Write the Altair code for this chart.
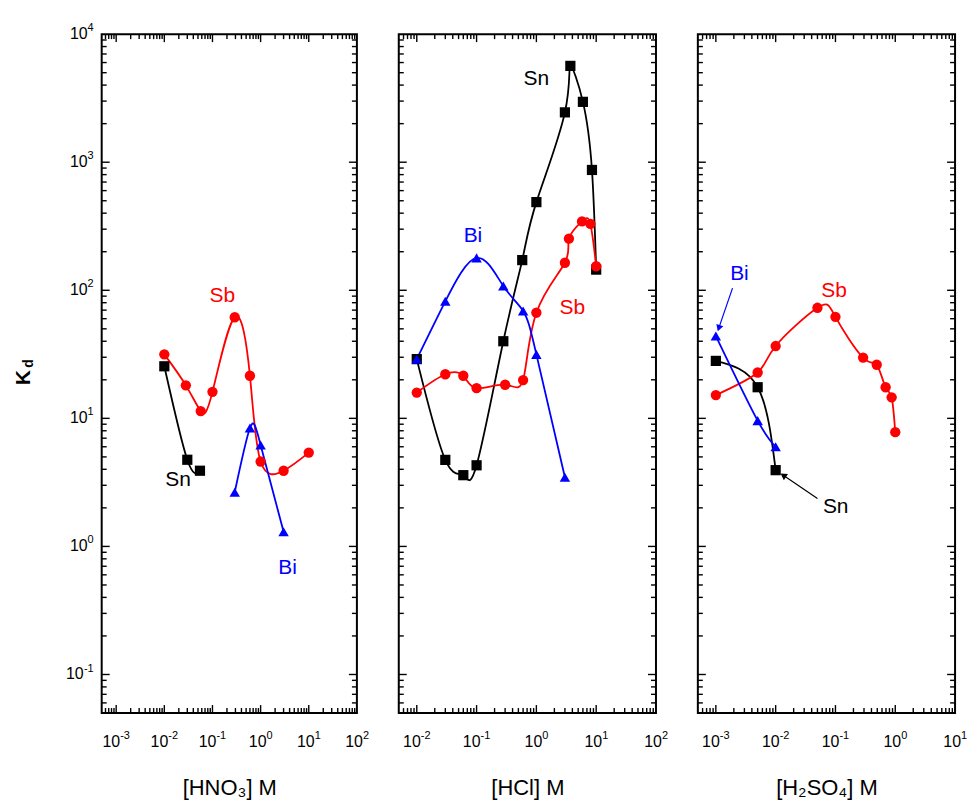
import altair as alt
import pandas as pd

ELEMENTS = ["Sn", "Sb", "Bi"]
COLORS = ["#000000", "#ff0000", "#0000ff"]
SHAPES = ["square", "circle", "triangle-up"]
FONT = "Liberation Sans"

# ---------------- data: [HNO3] ----------------
hno3_sn_x = [0.01, 0.03, 0.055]
hno3_sn_y = [25.5, 4.75, 3.9]
hno3_sb_x = [0.01, 0.028, 0.057, 0.1, 0.29, 0.6, 1.0, 3.0, 10.0]
hno3_sb_y = [31.6, 18.1, 11.4, 16.1, 61.6, 21.5, 4.6, 3.9, 5.4]
hno3_bi_x = [0.29, 0.6, 1.0, 3.0]
hno3_bi_y = [2.65, 8.4, 6.2, 1.3]

# ---------------- data: [HCl] ----------------
hcl_sn_x = [0.01, 0.03, 0.06, 0.1, 0.28, 0.58, 1.0, 3.0, 3.7, 6.0, 8.5, 10.0]
hcl_sn_y = [29, 4.74, 3.6, 4.3, 40, 172, 488, 2450, 5650, 2960, 870, 145]
hcl_sb_x = [0.01, 0.03, 0.06, 0.1, 0.3, 0.6, 1.0, 3.0, 3.5, 5.8, 8.0, 10.0]
hcl_sb_y = [15.9, 22.1, 21.5, 17.2, 18.3, 19.9, 66.8, 164, 253, 345, 330, 154]
hcl_bi_x = [0.01, 0.03, 0.1, 0.28, 0.6, 1.0, 3.0]
hcl_bi_y = [29, 82, 179, 108, 69, 31.6, 3.47]

# ---------------- data: [H2SO4] ----------------
h2so4_sn_x = [0.001, 0.005, 0.01]
h2so4_sn_y = [28.1, 17.5, 3.94]
h2so4_sb_x = [0.001, 0.005, 0.01, 0.05, 0.1, 0.29, 0.49, 0.69, 0.87, 1.0]
h2so4_sb_y = [15.2, 22.8, 36.7, 73, 62, 29.8, 26.2, 17.5, 14.6, 7.8]
h2so4_bi_x = [0.001, 0.005, 0.01]
h2so4_bi_y = [44, 9.6, 6.0]

# ---------------- in-plot labels ----------------
hno3_lab_text = ["Sb", "Sn", "Bi"]
hno3_lab_x = [0.16, 0.0193, 3.63]
hno3_lab_y = [90, 3.28, 0.68]
hcl_lab_text = ["Sn", "Bi", "Sb"]
hcl_lab_x = [1.0, 0.087, 4.0]
hcl_lab_y = [4490, 264, 73]
h2so4_lab_text = ["Bi", "Sn", "Sb"]
h2so4_lab_x = [0.00248, 0.101, 0.095]
h2so4_lab_y = [133, 2.04, 98.6]

# arrows in the H2SO4 panel (start -> end)
arrow_el = ["Bi", "Sn"]
arrow_x0 = [0.0019, 0.05]
arrow_y0 = [104, 2.37]
arrow_x1 = [0.00112, 0.0134]
arrow_y1 = [50.6, 3.59]
arrow_angle = [199, 304]

# axes
Y_DOMAIN = [0.05, 10000]
Y_EXPS = [-1, 0, 1, 2, 3, 4]
H = 681


def ticks(domain):
    lo, hi = domain
    major, minor = [], []
    for d in range(-6, 7):
        for k in range(1, 10):
            v = k * 10.0 ** d
            if lo * 1.0001 < v < hi * 0.9999:
                (major if k == 1 else minor).append(v)
    return major, minor


def series_df(xs_list, ys_list):
    rows = []
    for el, xs, ys in zip(ELEMENTS, xs_list, ys_list):
        for x, y in zip(xs, ys):
            rows.append({"x": x, "y": y, "el": el})
    return pd.DataFrame(rows)


color = alt.Color("el:N", scale=alt.Scale(domain=ELEMENTS, range=COLORS), legend=None)
shape = alt.Shape("el:N", scale=alt.Scale(domain=ELEMENTS, range=SHAPES), legend=None)
size = alt.Size("el:N", scale=alt.Scale(domain=ELEMENTS, range=[105, 110, 185]), legend=None)


def panel(df, labs, xdomain, exps, title, first, W, arrows=None):
    xs = alt.Scale(type="log", domain=xdomain, nice=False)
    ys = alt.Scale(type="log", domain=Y_DOMAIN, nice=False)
    xmaj, xmin = ticks(xdomain)
    ymaj, ymin = ticks(Y_DOMAIN)
    xaxis = alt.Axis(
        values=[10.0 ** e for e in exps], labels=False, ticks=False, domain=False, grid=False,
        title=title, titleFont=FONT, titleFontSize=22, titleFontWeight="normal",
        titleColor="black", titlePadding=65,
    )
    X = alt.X("x:Q", scale=xs, axis=xaxis)
    Y = alt.Y("y:Q", scale=ys, axis=None)

    layers = []
    rule = dict(color="black", strokeWidth=1.4)
    for d, ln in ((pd.DataFrame({"x": xmaj}), 8), (pd.DataFrame({"x": xmin}), 5)):
        layers.append(alt.Chart(d).mark_rule(**rule).encode(x=X, y=alt.value(H), y2=alt.value(H - ln)))
        layers.append(alt.Chart(d).mark_rule(**rule).encode(x=X, y=alt.value(0), y2=alt.value(ln)))
    for d, ln in ((pd.DataFrame({"y": ymaj}), 8), (pd.DataFrame({"y": ymin}), 5)):
        layers.append(alt.Chart(d).mark_rule(**rule).encode(y=Y, x=alt.value(0), x2=alt.value(ln)))
        layers.append(alt.Chart(d).mark_rule(**rule).encode(y=Y, x=alt.value(W - ln), x2=alt.value(W)))

    # x tick labels: "10" + raised exponent
    for short in (True, False):
        sel = [e for e in exps if (e >= 0) == short]
        if not sel:
            continue
        d = pd.DataFrame({"x": [10.0 ** e for e in sel], "b": ["10"] * len(sel),
                          "e": [str(e) for e in sel]})
        off = 6 if short else 4
        layers.append(alt.Chart(d).mark_text(
            font=FONT, fontSize=16, align="right", baseline="middle", dx=off, color="black"
        ).encode(x=X, y=alt.value(H + 29), text="b:N"))
        layers.append(alt.Chart(d).mark_text(
            font=FONT, fontSize=11, align="left", baseline="middle", dx=off, dy=-6, color="black"
        ).encode(x=X, y=alt.value(H + 29), text="e:N"))

    if first:
        for short in (True, False):
            sel = [e for e in Y_EXPS if (e >= 0) == short]
            d = pd.DataFrame({"y": [10.0 ** e for e in sel], "b": ["10"] * len(sel),
                              "e": [str(e) for e in sel]})
            layers.append(alt.Chart(d).mark_text(
                font=FONT, fontSize=16, align="right", baseline="middle", color="black"
            ).encode(y=Y, x=alt.value(-14 if short else -18), text="b:N"))
            layers.append(alt.Chart(d).mark_text(
                font=FONT, fontSize=11, align="right", baseline="middle", dy=-6, color="black"
            ).encode(y=Y, x=alt.value(-8), text="e:N"))
        layers.append(alt.Chart(pd.DataFrame({"t": ["K"]})).mark_text(
            font=FONT, fontSize=21, fontWeight="bold", angle=270, baseline="middle", color="black"
        ).encode(x=alt.value(-78), y=alt.value(H / 2 + 4), text="t:N"))
        layers.append(alt.Chart(pd.DataFrame({"t": ["d"]})).mark_text(
            font=FONT, fontSize=14, fontWeight="bold", angle=270, baseline="middle", color="black"
        ).encode(x=alt.value(-73), y=alt.value(H / 2 - 10), text="t:N"))

    base = alt.Chart(df)
    layers.append(base.mark_line(interpolate="natural", strokeWidth=1.8).encode(
        x=X, y=Y, color=color, detail="el:N"))
    layers.append(base.mark_point(filled=True, opacity=1).encode(
        x=X, y=Y, color=color, shape=shape, size=size))
    layers.append(alt.Chart(labs).mark_text(font=FONT, fontSize=21).encode(
        x=X, y=Y, text="t:N", color=color))

    if arrows is not None:
        seg, heads = arrows
        layers.append(alt.Chart(seg).mark_line(strokeWidth=1.2).encode(
            x=X, y=Y, color=color, detail="id:N"))
        for _, r in heads.iterrows():
            layers.append(alt.Chart(pd.DataFrame([r])).mark_point(
                shape="triangle-up", filled=True, opacity=1, size=55, angle=float(r["ang"])
            ).encode(x=X, y=Y, color=color))

    return alt.layer(*layers).properties(width=W, height=H)


df1 = series_df([hno3_sn_x, hno3_sb_x, hno3_bi_x], [hno3_sn_y, hno3_sb_y, hno3_bi_y])
df2 = series_df([hcl_sn_x, hcl_sb_x, hcl_bi_x], [hcl_sn_y, hcl_sb_y, hcl_bi_y])
df3 = series_df([h2so4_sn_x, h2so4_sb_x, h2so4_bi_x], [h2so4_sn_y, h2so4_sb_y, h2so4_bi_y])


def lab_df(t, x, y):
    return pd.DataFrame({"t": t, "x": x, "y": y, "el": t})


seg_rows, head_rows = [], []
for i, el in enumerate(arrow_el):
    seg_rows.append({"id": i, "el": el, "x": arrow_x0[i], "y": arrow_y0[i]})
    seg_rows.append({"id": i, "el": el, "x": arrow_x1[i], "y": arrow_y1[i]})
    head_rows.append({"el": el, "x": arrow_x1[i], "y": arrow_y1[i], "ang": arrow_angle[i]})

p1 = panel(df1, lab_df(hno3_lab_text, hno3_lab_x, hno3_lab_y), [0.0005, 100],
           [-3, -2, -1, 0, 1, 2], "[HNO\u2083] M", True, 256)
p2 = panel(df2, lab_df(hcl_lab_text, hcl_lab_x, hcl_lab_y), [0.005, 100],
           [-2, -1, 0, 1, 2], "[HCl] M", False, 258)
p3 = panel(df3, lab_df(h2so4_lab_text, h2so4_lab_x, h2so4_lab_y), [0.0005, 10],
           [-3, -2, -1, 0, 1], "[H\u2082SO\u2084] M", False, 258,
           arrows=(pd.DataFrame(seg_rows), pd.DataFrame(head_rows)))

chart = alt.hconcat(p1, p2, p3, spacing=42, bounds="flush").properties(
    padding={"left": 12, "top": 20, "right": 5, "bottom": 5},
).configure_view(stroke="black", strokeWidth=2)

chart.save("out.html", embed_options={"renderer": "svg", "actions": False})
